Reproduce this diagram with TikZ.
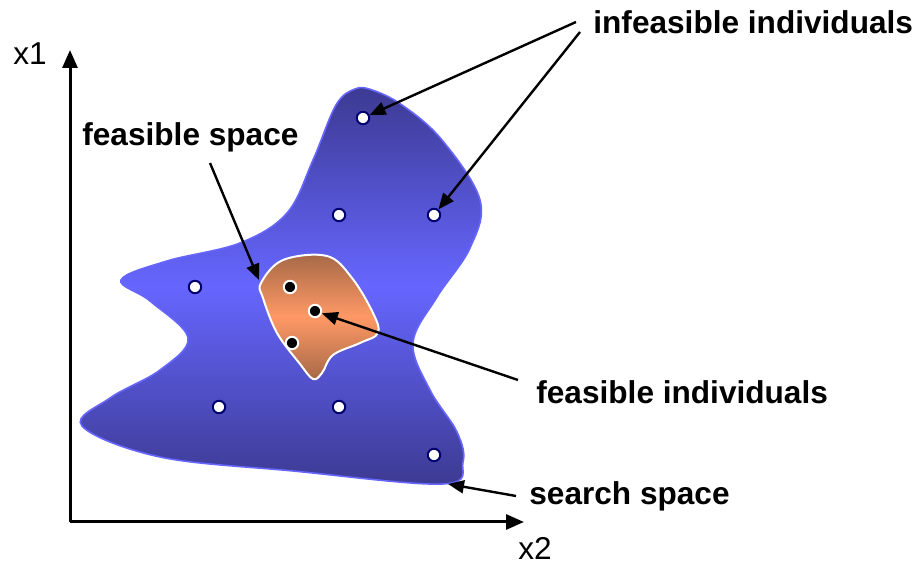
\documentclass[tikz,border=0pt]{standalone}
\usepackage{fontspec}
\setmainfont{Liberation Sans}
\usetikzlibrary{arrows.meta}

\definecolor{navy}{RGB}{0,0,110}
\definecolor{blobdark}{RGB}{60,58,145}
\definecolor{bloblight}{RGB}{102,102,255}
\definecolor{feasdark}{RGB}{165,104,70}
\definecolor{feaslight}{RGB}{255,153,102}

\begin{document}
\begin{tikzpicture}[
  x=0.5pt, y=-0.5pt,
  font=\fontsize{15.8}{19}\selectfont,
  lbl/.style={font=\fontsize{15.8}{19}\selectfont\bfseries, inner sep=0pt,
              anchor=base west},
  axlbl/.style={inner sep=0pt, anchor=base west},
  outdot/.style={circle, draw=navy, fill=white, line width=1pt,
                 minimum size=6.2pt, inner sep=0pt},
  indot/.style={circle, draw=white, fill=black, line width=1pt,
                minimum size=6.2pt, inner sep=0pt},
  ar/.style={-{Triangle[length=8pt,width=6.5pt]}, line width=1.2pt},
  axisar/.style={-{Triangle[length=9pt,width=7.5pt]}, line width=1.5pt},
]
\useasboundingbox (0,0) rectangle (923,565);

% axes
\coordinate (origin) at (70,522);
\coordinate (ytip) at (70,50);
\coordinate (xtip) at (524,522);
\draw[axisar] (origin) -- (ytip);
\draw[axisar] (origin) -- (xtip);
\node[axlbl] (x1) at (13,65) {x1};
\node[axlbl] (x2) at (518,560) {x2};

% search space
\draw[draw=bloblight, line width=0.8pt, top color=blobdark,
      bottom color=blobdark, middle color=bloblight]
  plot[smooth cycle, tension=0.6] coordinates {
    (355,89) (372,90) (402,105) (442,140) (480,200) (470,248)
    (437,297) (413,343) (430,390) (457,432) (463,462) (443,484)
    (293,471) (160,457) (82,426) (110,398) (160,370) (188,338)
    (150,301) (121,280) (167,261) (240,243) (287,213) (313,160)
    (336,105)};

% feasible space
\draw[draw=white, line width=1pt, top color=feasdark,
      bottom color=feasdark, middle color=feaslight]
  plot[smooth cycle, tension=0.6] coordinates {
    (261,283) (283,260) (327,256) (352,278) (373,313) (378,333)
    (360,343) (333,355) (322,373) (313,379) (300,364) (277,333)
    (263,298)};

% individuals
\node[outdot] (o1) at (363,118) {};
\node[outdot] (o2) at (339,215) {};
\node[outdot] (o3) at (434,215) {};
\node[outdot] (o4) at (195,287) {};
\node[outdot] (o5) at (219,407) {};
\node[outdot] (o6) at (339,407) {};
\node[outdot] (o7) at (434,455) {};
\node[indot] (f1) at (290,287) {};
\node[indot] (f2) at (315,311) {};
\node[indot] (f3) at (292,343) {};

% labels
\node[lbl] (infeas) at (593,34) {infeasible individuals};
\node[lbl] (feasspace) at (82,146) {feasible space};
\node[lbl] (feasind) at (536,404) {feasible individuals};
\node[lbl] (search) at (529,505) {search space};

% pointers
\coordinate (s1) at (576,22);
\coordinate (s2) at (580,32);
\coordinate (s3) at (210,163);
\coordinate (s4) at (518,380);
\coordinate (s5) at (516,496);
\coordinate (e3) at (259,280);
\coordinate (e5) at (448,484);
\draw[ar] (s1) -- (o1);
\draw[ar] (s2) -- (o3);
\draw[ar] (s3) -- (e3);
\draw[ar] (s4) -- (f2);
\draw[ar] (s5) -- (e5);
\end{tikzpicture}
\end{document}
